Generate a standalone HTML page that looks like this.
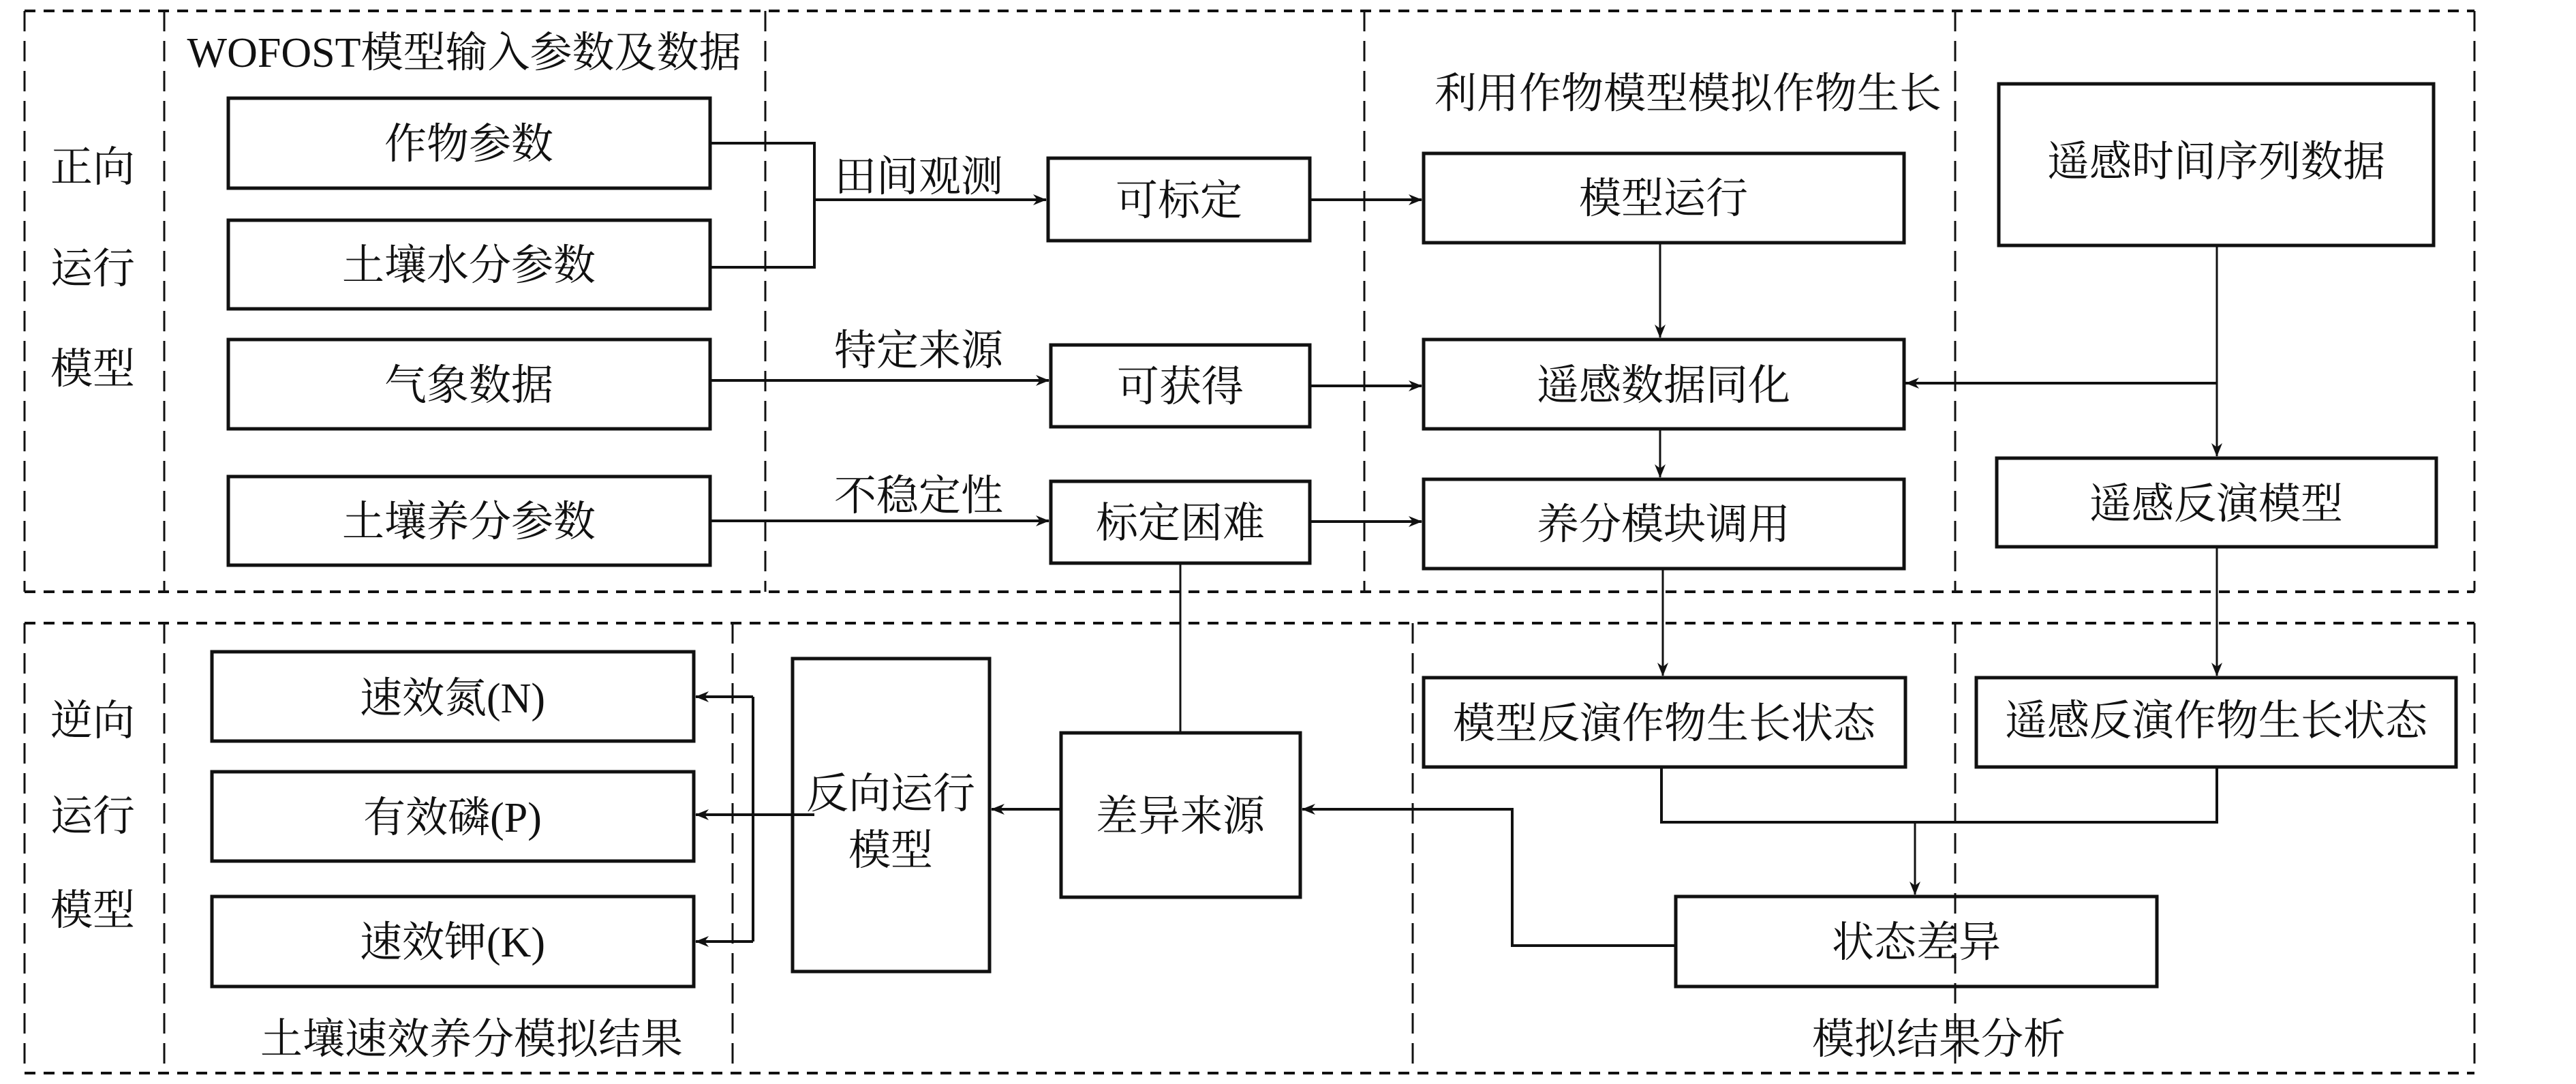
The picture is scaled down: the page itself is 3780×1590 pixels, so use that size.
<!DOCTYPE html>
<html><head><meta charset="utf-8"><style>
html,body{margin:0;padding:0;background:#fff}
svg{display:block}
text{font-family:"Liberation Serif","Noto Serif CJK SC",serif;fill:#111}
</style></head><body>
<svg width="3780" height="1590" viewBox="0 0 3780 1590" xmlns="http://www.w3.org/2000/svg">
<defs>
<marker id="a" viewBox="0 0 20 16" refX="19" refY="8" markerWidth="20" markerHeight="16" markerUnits="userSpaceOnUse" orient="auto">
<path d="M0,0 L20,8 L0,16 L6,8 Z" fill="#111"/></marker>
</defs>
<g fill="none" stroke="#111">
<!-- outer dashed sections -->
<g stroke-width="4" stroke-dasharray="16 12">
<path d="M36,16 H3631"/><path d="M36,868 H3631"/>
<path d="M36,914 H3631"/><path d="M36,1574 H3631"/>
</g>
<g stroke-width="3" stroke-dasharray="30 14">
<path d="M36,16 V868"/><path d="M3631,16 V868"/>
<path d="M36,914 V1574"/><path d="M3631,914 V1574"/>
<path d="M241,16 V868"/><path d="M1123,16 V868"/>
<path d="M2002,16 V868"/><path d="M2869,16 V868"/>
<path d="M241,914 V1574"/><path d="M1075,914 V1574"/>
<path d="M2073,914 V1574"/><path d="M2869,914 V1574"/>
</g>
<!-- boxes -->
<g stroke-width="5">
<rect x="335" y="144" width="707" height="132"/>
<rect x="335" y="323" width="707" height="130"/>
<rect x="335" y="498" width="707" height="131"/>
<rect x="335" y="699" width="707" height="130"/>
<rect x="1538" y="232" width="384" height="121"/>
<rect x="1542" y="506" width="380" height="120"/>
<rect x="1542" y="706" width="380" height="120"/>
<rect x="2089" y="225" width="705" height="131"/>
<rect x="2089" y="498" width="705" height="131"/>
<rect x="2089" y="703" width="705" height="131"/>
<rect x="2933" y="123" width="638" height="237"/>
<rect x="2930" y="672" width="645" height="130"/>
<rect x="311" y="956" width="707" height="131"/>
<rect x="311" y="1132" width="707" height="131"/>
<rect x="311" y="1315" width="707" height="132"/>
<rect x="1163" y="966" width="289" height="459"/>
<rect x="1557" y="1075" width="351" height="241"/>
<rect x="2089" y="994" width="707" height="131"/>
<rect x="2900" y="994" width="704" height="131"/>
<rect x="2459" y="1315" width="706" height="132"/>
</g>
<!-- connectors -->
<g stroke-width="4">
<path d="M1042,210 H1195 V392 H1042"/>
<path d="M1195,293 H1535" marker-end="url(#a)"/>
<path d="M1042,558 H1539" marker-end="url(#a)"/>
<path d="M1042,764 H1539" marker-end="url(#a)"/>
<path d="M1922,293 H2086" marker-end="url(#a)"/>
<path d="M1922,566 H2086" marker-end="url(#a)"/>
<path d="M1922,765 H2086" marker-end="url(#a)"/>
<path d="M2794,562 H3253"/>
<path d="M3253,562 H2797" marker-end="url(#a)"/>
<path d="M1195,1195 H1163"/>
<path d="M1105,1022 V1381"/>
<path d="M1163,1195 H1021" marker-end="url(#a)"/>
<path d="M1105,1022 H1021" marker-end="url(#a)"/>
<path d="M1105,1381 H1021" marker-end="url(#a)"/>
<path d="M1557,1187 H1455" marker-end="url(#a)"/>
<path d="M2459,1387 H2219 V1187 H1911" marker-end="url(#a)"/>
<path d="M2438,1125 V1206 H3253 V1125"/>
</g>
<g stroke-width="3">
<path d="M2436,356 V495" marker-end="url(#a)"/>
<path d="M2436,629 V700" marker-end="url(#a)"/>
<path d="M3253,360 V669" marker-end="url(#a)"/>
<path d="M2440,834 V991" marker-end="url(#a)"/>
<path d="M3253,802 V991" marker-end="url(#a)"/>
<path d="M2810,1206 V1312" marker-end="url(#a)"/>
<path d="M1732,826 V1075"/>
</g>
</g>
<g font-size="62" text-anchor="middle">
<text x="688" y="232">作物参数</text>
<text x="688" y="410">土壤水分参数</text>
<text x="688" y="586">气象数据</text>
<text x="688" y="786">土壤养分参数</text>
<text x="1730" y="315">可标定</text>
<text x="1732" y="588">可获得</text>
<text x="1732" y="788">标定困难</text>
<text x="2441" y="312">模型运行</text>
<text x="2441" y="586">遥感数据同化</text>
<text x="2441" y="790">养分模块调用</text>
<text x="3252" y="258">遥感时间序列数据</text>
<text x="3252" y="760">遥感反演模型</text>
<text x="664" y="1045">速效氮(N)</text>
<text x="664" y="1220">有效磷(P)</text>
<text x="664" y="1403">速效钾(K)</text>
<text x="1307" y="1185">反向运行</text>
<text x="1307" y="1268">模型</text>
<text x="1732" y="1218">差异来源</text>
<text x="2442" y="1082">模型反演作物生长状态</text>
<text x="3252" y="1078">遥感反演作物生长状态</text>
<text x="2812" y="1403">状态差异</text>
<text x="1348" y="280">田间观测</text>
<text x="1348" y="535">特定来源</text>
<text x="1348" y="748">不稳定性</text>
<text x="681" y="98">WOFOST模型输入参数及数据</text>
<text x="2477" y="158">利用作物模型模拟作物生长</text>
<text x="692" y="1545">土壤速效养分模拟结果</text>
<text x="2845" y="1545">模拟结果分析</text>
<text x="136" y="266">正向</text>
<text x="136" y="415">运行</text>
<text x="136" y="562">模型</text>
<text x="136" y="1078">逆向</text>
<text x="136" y="1218">运行</text>
<text x="136" y="1356">模型</text>
</g>
</svg>
</body></html>
